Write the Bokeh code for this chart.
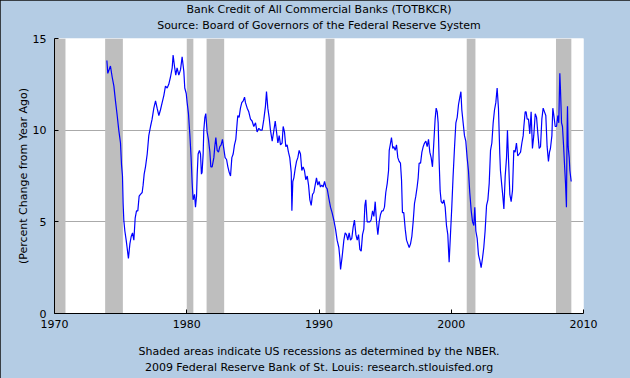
from bokeh.plotting import figure
from bokeh.models import Range1d, FixedTicker, BoxAnnotation, ColumnDataSource, Title, LinearAxis
from bokeh.embed import file_html
from bokeh.resources import INLINE

# ---- data (weekly % change from year ago) ----
dates_1973 = [1973.96, 1974.03, 1974.23, 1974.36, 1974.49, 1974.61, 1974.74, 1974.86, 1974.99,
              1975.07, 1975.14, 1975.19, 1975.24, 1975.32, 1975.42, 1975.49, 1975.59, 1975.70, 1975.80, 1975.90,
              1976.00, 1976.10, 1976.20, 1976.30, 1976.40, 1976.50, 1976.63, 1976.70, 1976.78, 1976.88,
              1977.01, 1977.13, 1977.26, 1977.38, 1977.51, 1977.64, 1977.76, 1977.89,
              1978.01, 1978.14, 1978.27, 1978.39, 1978.52, 1978.64, 1978.77, 1978.90, 1978.97,
              1979.07, 1979.17, 1979.27, 1979.40]
pct_1973 = [13.8, 13.1, 13.5, 12.9, 12.4, 11.6, 10.8, 10.0, 9.3,
            8.1, 7.5, 6.0, 5.1, 4.5, 4.0, 3.6, 3.0, 3.8, 4.2, 4.4,
            4.0, 5.2, 5.6, 5.6, 6.4, 6.5, 6.6, 7.0, 7.6, 8.0,
            8.7, 9.7, 10.2, 10.6, 11.2, 11.6, 11.2, 10.8,
            11.1, 11.5, 11.9, 12.4, 12.3, 12.5, 12.9, 13.4, 14.1,
            13.5, 13.0, 13.4, 13.0]

dates_1979 = [1979.53, 1979.65, 1979.78, 1979.85, 1979.96,
              1980.03, 1980.13, 1980.23, 1980.33, 1980.41, 1980.48, 1980.59, 1980.66, 1980.74, 1980.79, 1980.86, 1980.96,
              1981.04, 1981.11, 1981.16, 1981.24, 1981.29, 1981.37, 1981.44, 1981.54, 1981.64, 1981.75, 1981.82, 1981.92,
              1982.05, 1982.12, 1982.20, 1982.30, 1982.40, 1982.50, 1982.60, 1982.70, 1982.80, 1982.90,
              1983.01, 1983.11, 1983.21, 1983.31, 1983.41, 1983.51, 1983.61, 1983.71, 1983.81, 1983.86, 1983.96,
              1984.06, 1984.16, 1984.27, 1984.37, 1984.44, 1984.57, 1984.69, 1984.82, 1984.94,
              1985.07, 1985.20, 1985.32, 1985.45]
pct_1979 = [13.3, 14.0, 13.2, 12.3, 12.0,
            11.5, 10.9, 9.8, 8.5, 7.1, 6.2, 6.5, 5.8, 6.4, 7.6, 8.7, 8.9,
            8.7, 7.6, 7.7, 8.7, 10.0, 10.7, 10.9, 9.9, 9.5, 8.8, 8.0, 8.0,
            8.5, 9.1, 9.6, 8.9, 8.8, 9.1, 9.2, 9.5, 9.0, 8.5,
            8.4, 8.0, 7.7, 7.5, 8.5, 8.7, 9.2, 9.5, 10.4, 10.8, 10.7,
            11.2, 11.5, 11.6, 11.8, 11.5, 11.2, 11.0, 10.6, 10.5,
            10.2, 10.4, 9.9, 10.1]

dates_1985 = [1985.58, 1985.70, 1985.83, 1985.95,
              1986.03, 1986.13, 1986.23, 1986.33, 1986.46, 1986.59, 1986.69, 1986.79, 1986.89, 1986.99,
              1987.09, 1987.21, 1987.29, 1987.39, 1987.49, 1987.59, 1987.69, 1987.79, 1987.90, 1987.95,
              1988.02, 1988.10, 1988.20, 1988.30, 1988.40, 1988.50, 1988.60, 1988.70, 1988.80, 1988.90,
              1989.00, 1989.11, 1989.21, 1989.31, 1989.41, 1989.51, 1989.61, 1989.71, 1989.81, 1989.91,
              1990.01, 1990.11, 1990.21, 1990.31, 1990.42, 1990.52, 1990.62, 1990.74, 1990.87, 1990.99,
              1991.12, 1991.25, 1991.37, 1991.50, 1991.58]
pct_1985 = [10.0, 10.0, 10.6, 11.3,
            12.1, 11.2, 10.7, 10.0, 9.4, 10.0, 10.5, 9.9, 9.3, 9.7,
            9.2, 9.3, 10.2, 9.9, 9.1, 9.2, 8.8, 8.5, 7.7, 5.6,
            7.2, 7.4, 7.9, 8.3, 8.5, 8.9, 8.7, 7.8, 8.0, 7.8,
            7.3, 7.5, 7.0, 6.2, 5.9, 6.5, 6.6, 7.0, 7.4, 7.0,
            7.2, 6.9, 7.0, 6.9, 7.2, 6.9, 6.8, 6.3, 5.8, 5.5,
            5.1, 4.6, 4.0, 3.6, 3.0]

dates_1991 = [1991.63, 1991.75, 1991.88, 1991.98,
              1992.08, 1992.18, 1992.28, 1992.38, 1992.48, 1992.58, 1992.68, 1992.79, 1992.89, 1992.99,
              1993.09, 1993.19, 1993.29, 1993.39, 1993.47, 1993.54, 1993.64, 1993.74, 1993.84, 1993.94,
              1994.05, 1994.15, 1994.25, 1994.35, 1994.45, 1994.55, 1994.65, 1994.75, 1994.85, 1994.95,
              1995.05, 1995.16, 1995.26, 1995.31, 1995.41, 1995.48, 1995.58, 1995.66, 1995.76, 1995.86, 1995.96,
              1996.06, 1996.16, 1996.24, 1996.31, 1996.41, 1996.52, 1996.62, 1996.72, 1996.82, 1996.92,
              1997.02, 1997.12, 1997.22, 1997.32, 1997.42, 1997.50, 1997.57]
pct_1991 = [2.4, 3.1, 4.0, 4.4,
            4.3, 4.0, 4.4, 4.0, 4.1, 4.7, 5.1, 4.3, 4.0, 4.3,
            3.5, 3.4, 4.3, 4.6, 5.9, 6.2, 5.0, 5.0, 5.0, 5.1,
            5.6, 5.3, 6.1, 5.0, 4.3, 5.0, 5.4, 5.6, 5.6, 5.8,
            6.6, 7.1, 7.8, 8.9, 9.3, 9.6, 9.0, 9.1, 8.9, 9.2, 8.5,
            8.3, 8.2, 7.3, 5.5, 5.5, 4.6, 4.0, 3.8, 3.6, 3.8,
            4.2, 5.0, 6.0, 6.4, 6.9, 7.4, 8.2]

dates_1997 = [1997.68, 1997.78, 1997.88, 1997.98,
              1998.08, 1998.18, 1998.28, 1998.38, 1998.48, 1998.58, 1998.68, 1998.78, 1998.86, 1998.94,
              1999.01, 1999.09, 1999.16, 1999.24, 1999.34, 1999.44, 1999.54, 1999.64, 1999.74, 1999.84, 1999.94,
              2000.04, 2000.14, 2000.25, 2000.35, 2000.45, 2000.55, 2000.65, 2000.73, 2000.80, 2000.90,
              2001.00, 2001.10, 2001.20, 2001.30, 2001.40, 2001.51, 2001.61, 2001.71, 2001.78, 2001.86, 2001.96,
              2002.06, 2002.16, 2002.26, 2002.36, 2002.46, 2002.56, 2002.67, 2002.77, 2002.87, 2002.97,
              2003.07, 2003.17, 2003.27, 2003.37, 2003.47, 2003.57, 2003.67]
pct_1997 = [8.2, 8.8, 9.1, 9.3,
            9.4, 9.1, 9.5, 8.8, 8.5, 8.0, 9.3, 10.6, 11.2, 11.0,
            10.4, 8.2, 6.7, 6.1, 6.0, 6.2, 5.8, 4.8, 4.3, 2.8, 4.3,
            5.8, 7.5, 9.1, 10.4, 10.7, 11.4, 11.8, 12.1, 11.1, 10.4,
            9.7, 9.4, 8.5, 7.8, 6.6, 5.6, 5.0, 4.8, 5.8, 4.5, 4.1,
            3.2, 2.9, 2.5, 3.0, 3.6, 4.5, 5.9, 6.2, 7.1, 8.9,
            9.3, 10.4, 11.1, 11.5, 12.3, 11.2, 8.7]

dates_2003 = [2003.72, 2003.82, 2003.90, 2003.98,
              2004.08, 2004.18, 2004.25, 2004.33, 2004.43, 2004.53, 2004.63, 2004.73, 2004.83, 2004.93,
              2005.03, 2005.14, 2005.24, 2005.34, 2005.44, 2005.49, 2005.59, 2005.66, 2005.74, 2005.84, 2005.94,
              2006.04, 2006.14, 2006.24, 2006.35, 2006.45, 2006.55, 2006.65, 2006.75, 2006.85, 2006.95,
              2007.05, 2007.15, 2007.25, 2007.35, 2007.43, 2007.50, 2007.61, 2007.68, 2007.76, 2007.86, 2007.96,
              2008.06, 2008.13, 2008.21, 2008.26, 2008.34, 2008.41, 2008.49, 2008.56, 2008.64, 2008.71,
              2008.76, 2008.79, 2008.84, 2008.92, 2008.97,
              2009.02, 2009.07]
pct_2003 = [7.8, 7.0, 6.4, 5.7,
            7.5, 8.5, 10.0, 8.4, 6.5, 6.1, 6.7, 8.9, 8.8, 9.3,
            8.6, 8.7, 8.8, 9.3, 9.7, 10.2, 11.0, 11.0, 10.6, 10.6, 9.8,
            11.0, 9.0, 9.7, 10.9, 10.7, 9.8, 9.0, 9.1, 10.6, 11.2,
            11.0, 10.8, 9.1, 8.3, 8.8, 9.0, 9.7, 11.2, 10.8, 10.2, 10.2,
            10.8, 10.4, 13.1, 12.2, 10.4, 10.2, 9.2, 8.2, 7.1, 5.8,
            10.0, 11.3, 9.1, 8.5, 7.8,
            7.5, 7.2]

# NBER recessions
rec_start = [1969.92, 1973.83, 1980.00, 1981.50, 1990.50, 2001.17, 2007.92]
rec_end = [1970.83, 1975.17, 1980.50, 1982.83, 1991.17, 2001.83, 2009.08]

x_ticks = [1970, 1980, 1990, 2000, 2010]
y_ticks = [0, 5, 10, 15]
grid_ticks = [5, 10]

title_1 = "Bank Credit of All Commercial Banks (TOTBKCR)"
title_2 = "Source: Board of Governors of the Federal Reserve System"
y_label = "(Percent Change from Year Ago)"
foot_1 = "Shaded areas indicate US recessions as determined by the NBER."
foot_2 = "2009 Federal Reserve Bank of St. Louis: research.stlouisfed.org"

dates = dates_1973 + dates_1979 + dates_1985 + dates_1991 + dates_1997 + dates_2003
pct = pct_1973 + pct_1979 + pct_1985 + pct_1991 + pct_1997 + pct_2003

BG = "#B4CCE4"
FONT = "DejaVu Sans"
FS = "11px"

p = figure(width=630, height=378, output_backend="svg", toolbar_location=None,
           x_range=Range1d(1970, 2010), y_range=Range1d(0, 15),
           min_border_left=54, min_border_right=47, min_border_top=38, min_border_bottom=65)
p.border_fill_color = BG
p.background_fill_color = "white"
p.outline_line_color = None
p.styles = {"outline": "2px solid #101010", "outline-offset": "-2px"}

p.xgrid.visible = False
p.ygrid.ticker = FixedTicker(ticks=grid_ticks)
p.ygrid.grid_line_color = "#AAAAAA"
p.ygrid.grid_line_width = 1

for s, e in zip(rec_start, rec_end):
    p.add_layout(BoxAnnotation(left=s, right=e, fill_color="#BEBEBE", fill_alpha=1.0,
                               line_color=None, level="underlay"))

src = ColumnDataSource(dict(x=dates, y=pct))
p.line("x", "y", source=src, line_color="#0000FF", line_width=1.2)

for ax, ticks in ((p.xaxis, x_ticks), (p.yaxis, y_ticks)):
    ax.ticker = FixedTicker(ticks=ticks)
    ax.minor_tick_line_color = None
    ax.major_tick_in = 4
    ax.major_tick_out = 0
    ax.axis_line_color = "black"
    ax.major_tick_line_color = "black"
    ax.major_label_text_font = FONT
    ax.major_label_text_font_size = FS
    ax.major_label_text_color = "black"
    ax.axis_label_text_font = FONT
    ax.axis_label_text_font_size = FS
    ax.axis_label_text_font_style = "normal"
    ax.axis_label_text_color = "black"

p.xaxis.major_label_standoff = 6
p.yaxis.major_label_standoff = 8
p.yaxis.axis_label = y_label
p.yaxis.axis_label_standoff = 0

# first footnote line sits under the year labels
p.xaxis.axis_label = foot_1
p.xaxis.axis_label_standoff = 14

# subtitle line: an axis without ticks above the plot carries it
top_axis = LinearAxis(ticker=FixedTicker(ticks=[]), axis_label=title_2,
                      axis_line_color=None, major_tick_line_color=None, minor_tick_line_color=None,
                      major_tick_in=0, major_tick_out=0, major_label_standoff=0,
                      axis_label_standoff=7, axis_label_text_font=FONT,
                      axis_label_text_font_size=FS, axis_label_text_font_style="normal",
                      axis_label_text_color="black")
p.add_layout(top_axis, "above")


def make_title(txt, standoff, valign="bottom"):
    return Title(text=txt, align="center", text_font=FONT, text_font_size=FS,
                 text_font_style="normal", text_color="black", standoff=standoff,
                 vertical_align=valign)


p.add_layout(make_title(title_1, 0), "above")
p.add_layout(make_title(foot_2, 0, "top"), "below")

open("out.html", "w").write(file_html(p, INLINE))
